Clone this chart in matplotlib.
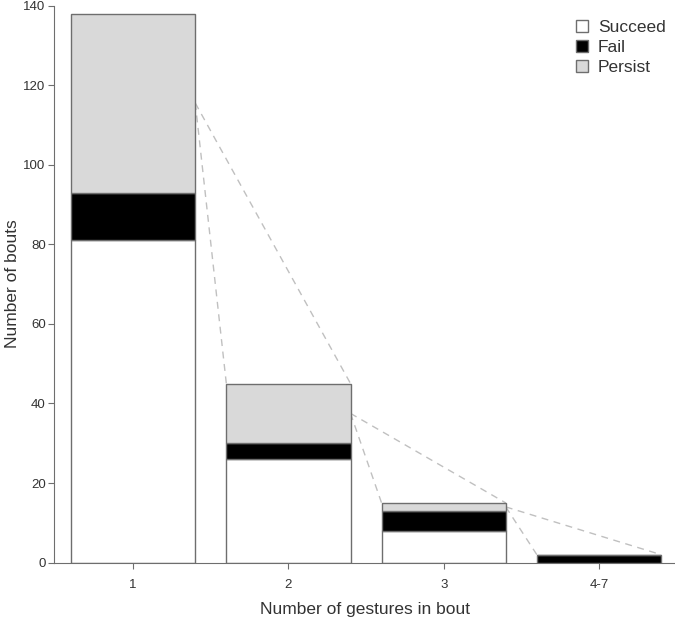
import matplotlib
matplotlib.use("Agg")
from matplotlib import pyplot as plt
from matplotlib.patches import Patch
import numpy as np

plt.rcParams['font.family'] = ['Liberation Sans', 'DejaVu Sans']

categories = ['1', '2', '3', '4-7']
succeed = np.array([81, 26, 8, 0])
fail = np.array([12, 4, 5, 2])
persist = np.array([45, 15, 2, 0])

edge = '#6e6e6e'
textc = '#333333'
w = 0.8
x = np.arange(len(categories))

fig = plt.figure(figsize=(6.75, 6.22), dpi=100)
ax = fig.add_axes([0.08, 0.0955, 0.92, 0.8955])

ax.bar(x, succeed, w, color='white', edgecolor=edge, linewidth=1, zorder=2)
ax.bar(x, fail, w, bottom=succeed, color='black', edgecolor=edge, linewidth=1, zorder=2)
ax.bar(x, persist, w, bottom=succeed + fail, color='#d9d9d9', edgecolor=edge, linewidth=1, zorder=2)

# dashed "zoom" lines from the persist part to the next bar
total = succeed + fail + persist
for i in range(len(x) - 1):
    x0 = x[i] + w / 2
    y0 = succeed[i] + fail[i] + persist[i] / 2
    for x1 in (x[i + 1] - w / 2, x[i + 1] + w / 2):
        ax.plot([x0, x1], [y0, total[i + 1]], linestyle=(0, (5, 4)), color='#c0c0c0',
                linewidth=1, zorder=1)

ax.set_xlim(-0.51, 3.49)
ax.set_ylim(0, 140)
ax.set_xticks(x)
ax.set_xticklabels(categories)
ax.set_yticks(np.arange(0, 141, 20))
for s in ['top', 'right']:
    ax.spines[s].set_visible(False)
for s in ['left', 'bottom']:
    ax.spines[s].set_color(edge)
ax.tick_params(colors=edge, labelcolor=textc, labelsize=9.5, length=4)
ax.tick_params(axis='y', pad=2)
ax.tick_params(axis='x', pad=8)
ax.set_xlabel('Number of gestures in bout', fontsize=12.5, color=textc, labelpad=8)
ax.set_ylabel('Number of bouts', fontsize=12.5, color=textc)
ax.yaxis.set_label_coords(-0.054, 0.5)

handles = [Patch(facecolor='white', edgecolor=edge, label='Succeed'),
           Patch(facecolor='black', edgecolor=edge, label='Fail'),
           Patch(facecolor='#d9d9d9', edgecolor=edge, label='Persist')]
leg = ax.legend(handles=handles, loc='upper right', frameon=False, fontsize=12.5,
                handlelength=0.7, handleheight=0.7, handletextpad=0.55, labelspacing=0.3,
                bbox_to_anchor=(1.01, 1.003))
for t in leg.get_texts():
    t.set_color(textc)

plt.savefig('out.png', dpi=100)
